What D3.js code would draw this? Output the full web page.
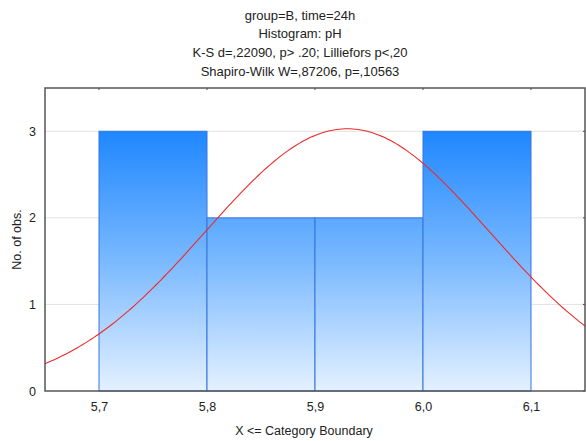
<!DOCTYPE html>
<html><head><meta charset="utf-8">
<script src="https://cdn.jsdelivr.net/npm/d3@7"></script>
<style>body{margin:0;background:#fff}svg{display:block}text{font-family:"Liberation Sans",Arial,sans-serif;fill:#222}</style>
</head><body>
<svg id="c" width="586" height="441"></svg>
<script>
const titleLines = ["group=B, time=24h","Histogram: pH","K-S d=,22090, p> .20; Lilliefors p<,20","Shapiro-Wilk W=,87206, p=,10563"];
const binStarts = [5.7, 5.8, 5.9, 6.0];
const binEnds = [5.8, 5.9, 6.0, 6.1];
const counts = [3, 2, 2, 3];
const xTicks = [5.7, 5.8, 5.9, 6.0, 6.1];
const xTickLabels = ["5,7","5,8","5,9","6,0","6,1"];
const yTicks = [0, 1, 2, 3];
const fitMean = 5.93, fitSD = 0.1317, nObs = 10, binWidth = 0.1;

const svg = d3.select("#c");
const m = {l:45, r:585, t:88, b:391};
const x = d3.scaleLinear().domain([5.65, 6.15]).range([m.l, m.r]);
const y = d3.scaleLinear().domain([0, 3.5]).range([m.b, m.t]);

const defs = svg.append("defs");
const g = defs.append("linearGradient").attr("id","bg").attr("gradientUnits","userSpaceOnUse")
  .attr("x1",0).attr("x2",0).attr("y1",y(3)).attr("y2",y(0));
g.append("stop").attr("offset","0%").attr("stop-color","#1f87ff");
g.append("stop").attr("offset","50%").attr("stop-color","#7ab9ff");
g.append("stop").attr("offset","100%").attr("stop-color","#e4f1ff");

// gridlines
svg.append("g").selectAll("line").data(yTicks.filter(d=>d>0)).join("line")
  .attr("x1",m.l).attr("x2",m.r).attr("y1",d=>y(d)).attr("y2",d=>y(d))
  .attr("stroke","#e2e2e2").attr("stroke-width",1);

// bars
svg.append("g").selectAll("rect").data(counts).join("rect")
  .attr("x",(d,i)=>x(binStarts[i])).attr("width",(d,i)=>x(binEnds[i])-x(binStarts[i]))
  .attr("y",d=>y(d)).attr("height",d=>y(0)-y(d))
  .attr("fill","url(#bg)").attr("stroke","#3574e2").attr("stroke-width",1);

// normal curve
const pts = d3.range(0, 201).map(i => 5.65 + i*(0.5/200));
const dens = v => nObs*binWidth/(fitSD*Math.sqrt(2*Math.PI))*Math.exp(-0.5*((v-fitMean)/fitSD)**2);
svg.append("path").datum(pts)
  .attr("d", d3.line().x(d=>x(d)).y(d=>y(dens(d))))
  .attr("fill","none").attr("stroke","#ee2a2a").attr("stroke-width",1.1);

// axes
const xa = svg.append("g").attr("transform",`translate(0,${m.b})`)
  .call(d3.axisBottom(x).tickValues(xTicks).tickFormat((d,i)=>xTickLabels[i]).tickSize(0).tickPadding(11));
const ya = svg.append("g").attr("transform",`translate(${m.l},0)`)
  .call(d3.axisLeft(y).tickValues(yTicks).tickFormat(d3.format("d")).tickSize(0).tickPadding(9));
[xa, ya].forEach(a => { a.select(".domain").remove(); a.selectAll("text").attr("font-size","12.5px").attr("fill","#222").attr("font-family","Liberation Sans, Arial, sans-serif"); });

// mirrored small ticks
svg.append("g").selectAll("line").data(xTicks).join("line")
  .attr("x1",d=>x(d)).attr("x2",d=>x(d)).attr("y1",m.t).attr("y2",m.t+2).attr("stroke","#444");
svg.append("g").selectAll("line").data(yTicks).join("line")
  .attr("x1",m.r-2).attr("x2",m.r).attr("y1",d=>y(d)).attr("y2",d=>y(d)).attr("stroke","#444");

// frame
svg.append("rect").attr("x",m.l).attr("y",m.t).attr("width",m.r-m.l).attr("height",m.b-m.t)
  .attr("fill","none").attr("stroke","#555").attr("stroke-width",1.5);

// titles
svg.append("g").selectAll("text").data(titleLines).join("text")
  .attr("x",300).attr("y",(d,i)=>19.5+i*18.7).attr("text-anchor","middle").attr("font-size","13px").text(d=>d);

svg.append("text").attr("x",304).attr("y",435).attr("text-anchor","middle").attr("font-size","12.5px").text("X <= Category Boundary");
svg.append("text").attr("transform",`translate(21,${(m.t+m.b)/2}) rotate(-90)`).attr("text-anchor","middle").attr("font-size","12.5px").text("No. of obs.");
</script>
</body></html>
